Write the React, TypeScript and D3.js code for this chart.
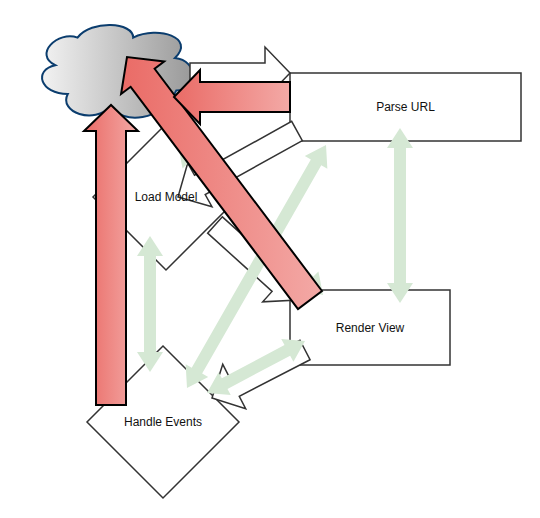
import React from 'react'
import * as d3 from 'd3'

type P = [number, number]

const rects = [
  { label: 'Parse URL', x: 290, y: 73, w: 231, h: 68 },
  { label: 'Render View', x: 290, y: 290, w: 160, h: 75 },
]
const diamonds = [
  { label: 'Load Model', cx: 166, cy: 197, r: 73 },
  { label: 'Handle Events', cx: 163, cy: 422, r: 76 },
]
// hollow arrows: from, to, body width, head width, head length
const hollowArrows: { a: P; b: P; w: number; hw: number; hl: number }[] = [
  { a: [190, 73], b: [290, 73], w: 20, hw: 52, hl: 25 },
  { a: [297, 131], b: [178, 197], w: 22, hw: 50, hl: 25 },
  { a: [215, 225], b: [298, 300], w: 22, hw: 50, hl: 25 },
  { a: [305, 350], b: [212, 398], w: 22, hw: 50, hl: 25 },
]
const greenArrows: { a: P; b: P }[] = [
  { a: [400, 128], b: [400, 303] },
  { a: [150, 236], b: [150, 372] },
  { a: [305, 341], b: [207, 393] },
  { a: [326, 145], b: [187, 388] },
  { a: [178, 145], b: [323, 295] },
]
const redArrows: { a: P; b: P }[] = [
  { a: [111, 405], b: [111, 105] },
  { a: [310, 300], b: [127, 57] },
  { a: [290, 97], b: [174, 97] },
]

function arrowPts(a: P, b: P, w: number, hw: number, hl: number, both = false): P[] {
  const dx = b[0] - a[0], dy = b[1] - a[1]
  const len = Math.hypot(dx, dy)
  const ux = dx / len, uy = dy / len
  const nx = -uy, ny = ux
  const at = (t: number, s: number): P => [a[0] + ux * t + nx * s, a[1] + uy * t + ny * s]
  const pts: P[] = []
  if (both) {
    pts.push(at(0, 0), at(hl, -hw / 2), at(hl, -w / 2))
  } else {
    pts.push(at(0, -w / 2))
  }
  pts.push(at(len - hl, -w / 2), at(len - hl, -hw / 2), at(len, 0), at(len - hl, hw / 2), at(len - hl, w / 2))
  if (both) pts.push(at(hl, w / 2), at(hl, hw / 2))
  else pts.push(at(0, w / 2))
  return pts
}

const line = d3.line<P>().x(d => d[0]).y(d => d[1])
const poly = (pts: P[]) => line(pts) + 'Z'

const cloudX = d3.scaleLinear().domain([0, 120]).range([33, 200])
const cloudY = d3.scaleLinear().domain([0, 80]).range([22, 118])
const cloudRaw: number[][] = [
  [25, 60], [5, 60, 0, 40, 16, 36], [0, 27, 18, 7, 32, 13], [42, -2, 72, 0, 72, 13],
  [90, 3, 117, 13, 102, 30], [119, 32, 119, 57, 103, 57], [93, 83, 64, 86, 56, 70], [44, 86, 18, 75, 25, 60],
]
const cloudPath = () => {
  const p = d3.path()
  p.moveTo(cloudX(cloudRaw[0][0]), cloudY(cloudRaw[0][1]))
  cloudRaw.slice(1).forEach(c =>
    p.bezierCurveTo(cloudX(c[0]), cloudY(c[1]), cloudX(c[2]), cloudY(c[3]), cloudX(c[4]), cloudY(c[5])))
  p.closePath()
  return p.toString()
}

const font = 'Liberation Sans, Arial, Helvetica, sans-serif'

export default function App() {
  return (
    <svg width={540} height={518} style={{ position: 'absolute', left: 0, top: 0 }}>
      <defs>
        <linearGradient id="cloudG" x1="0" x2="1" y1="0" y2="0">
          <stop offset="0" stopColor="#f2f2f2" />
          <stop offset="1" stopColor="#999999" />
        </linearGradient>
        <linearGradient id="redG" gradientUnits="objectBoundingBox" x1="0" x2="1" y1="0" y2="0">
          <stop offset="0" stopColor="#ea6b66" />
          <stop offset="1" stopColor="#f3a9a6" />
        </linearGradient>
      </defs>
      <path d={cloudPath()} fill="url(#cloudG)" stroke="#0b3d6e" strokeWidth={2} />
      {rects.map(r => (
        <g key={r.label}>
          <rect x={r.x} y={r.y} width={r.w} height={r.h} fill="#fff" stroke="#333" strokeWidth={1.5} />
        </g>
      ))}
      {diamonds.map(d => (
        <polygon key={d.label} fill="#fff" stroke="#333" strokeWidth={1.5}
          points={[[d.cx, d.cy - d.r], [d.cx + d.r, d.cy], [d.cx, d.cy + d.r], [d.cx - d.r, d.cy]].join(' ')} />
      ))}
      {hollowArrows.map((h, i) => (
        <path key={i} d={poly(arrowPts(h.a, h.b, h.w, h.hw, h.hl))} fill="#fff" stroke="#333" strokeWidth={1.5} />
      ))}
      {rects.map(r => (
        <text key={r.label} x={r.x + r.w / 2} y={r.y + r.h / 2 + 4} textAnchor="middle" fontSize={12} fontFamily={font} fill="#111">{r.label}</text>
      ))}
      {diamonds.map(d => (
        <text key={d.label} x={d.cx} y={d.cy + 4} textAnchor="middle" fontSize={12} fontFamily={font} fill="#111">{d.label}</text>
      ))}
      {greenArrows.map((g, i) => (
        <path key={i} d={poly(arrowPts(g.a, g.b, 12, 26, 20, true))} fill="#d5e8d4" />
      ))}
      {redArrows.map((r, i) => (
        <path key={i} d={poly(arrowPts(r.a, r.b, 30, 54, 26))} fill="url(#redG)" stroke="#000" strokeWidth={2} />
      ))}
    </svg>
  )
}
